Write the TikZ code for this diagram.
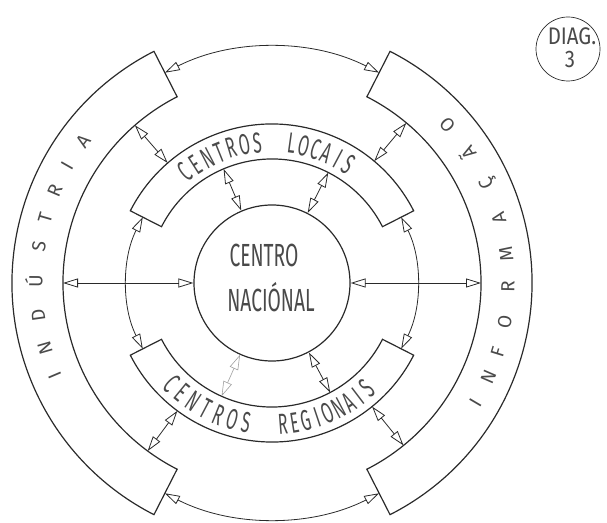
\documentclass[tikz,border=0pt]{standalone}
\usepackage{fontspec}
\usepackage{tikz}
\usetikzlibrary{arrows.meta}
\newfontfamily\stencil{Fira Sans}
\definecolor{ink}{HTML}{2A2A2A}
\definecolor{pencil}{HTML}{4A4A4A}
\tikzset{
  ring/.style={draw=ink,line width=1.2pt,line join=miter},
  hub/.style={circle,draw=ink,line width=1.2pt,minimum size=156pt,inner sep=0pt},
  link/.style={<->,draw=ink,line width=0.8pt},
  faint/.style={<->,draw=ink!45,line width=0.6pt},
  outtxt/.style={font=\stencil\fontsize{19}{19}\selectfont,text=pencil,inner sep=0pt,anchor=base},
  midtxt/.style={font=\stencil\fontsize{29}{29}\selectfont,text=pencil,inner sep=0pt,anchor=base,xscale=0.55},
  hubtxt/.style={font=\stencil\fontsize{32}{32}\selectfont,text=pencil,inner sep=0pt,anchor=base,xscale=0.6},
  tagtxt/.style={font=\stencil\fontsize{24}{24}\selectfont,text=pencil,inner sep=0pt,anchor=base,xscale=0.85}
}

\begin{document}
\begin{tikzpicture}[x=1pt,y=1pt,>={Triangle[open,length=15pt,width=9pt]}]
  \useasboundingbox (0,0) rectangle (607,522);

  % diagram tag
  \node[circle,draw=ink,line width=0.7pt,minimum size=64pt,inner sep=0pt] (tag) at (568,473) {};
  \node[tagtxt] (tag1) at (572,477) {DIAG.};
  \node[tagtxt] (tag2) at (570,454) {3};

  \begin{scope}[shift={(272,239)}]
    % outer ring: industria / informacao
    \draw[ring] (117:260) arc[start angle=117,end angle=243,radius=260]
      -- (243:209) arc[start angle=243,end angle=117,radius=209] -- cycle;
    \draw[ring] (-63:260) arc[start angle=-63,end angle=63,radius=260]
      -- (63:209) arc[start angle=63,end angle=-63,radius=209] -- cycle;
    % middle ring: locais / regionais
    \draw[ring] (27:159) arc[start angle=27,end angle=153,radius=159]
      -- (153:124) arc[start angle=153,end angle=27,radius=124] -- cycle;
    \draw[ring] (207:159) arc[start angle=207,end angle=333,radius=159]
      -- (333:124) arc[start angle=333,end angle=207,radius=124] -- cycle;

    \node[hub] (nac) at (0,0) {};
    \node[hubtxt] (nac1) at (-8,16) {CENTRO};
    \node[hubtxt] (nac2) at (-1,-29) {NACIÓNAL};

    % links round the rings
    \coordinate (ind-t) at (117:236);
    \coordinate (ind-b) at (243:236);
    \coordinate (loc-l) at (153:145);
    \coordinate (loc-r) at (27:145);
    \draw[link] (ind-t) arc[start angle=117,end angle=63,radius=236];
    \draw[link] (ind-b) arc[start angle=243,end angle=297,radius=236];
    \draw[link] (loc-l) arc[start angle=153,end angle=207,radius=145];
    \draw[link] (loc-r) arc[start angle=27,end angle=-27,radius=145];

    % links across
    \coordinate (ind-in) at (180:209);
    \coordinate (inf-in) at (0:209);
    \draw[link] (ind-in) -- (nac.west);
    \draw[link] (nac.east) -- (inf-in);
    \foreach \a [count=\i] in {131,50,233.5,309} {
      \coordinate (mid\i) at (\a:159);
      \coordinate (out\i) at (\a:209);
      \draw[link] (mid\i) -- (out\i);
    }
    \foreach \a [count=\i] in {113,63,298} {
      \coordinate (in\i) at (\a:124);
      \draw[link] (nac.\a) -- (in\i);
    }
    \coordinate (in4) at (246:124);
    \draw[faint] (nac.246) -- (in4);

    % lettering
    \foreach \a/\ch [count=\i] in {203/I,196/N,188/D,179.5/Ú,171/S,164/T,157/R,150.3/I,143/A}
      \node[rotate=\a-90,outtxt] (ind\i) at (\a:229.5) {\ch};
    \foreach \a/\ch [count=\i] in {-30.5/I,-23.5/N,-17/F,-9.5/O,-1/R,7/M,16/A,25/Ç,33.5/Ã,42/O}
      \node[rotate=\a+90,outtxt] (inf\i) at (\a:242.5) {\ch};
    \foreach \a/\ch [count=\i] in {128/C,122.7/E,117.3/N,112/T,106.7/R,101.3/O,96/S,82/L,77/O,72/C,67/A,62/I,57/S}
      \node[rotate=\a-90,midtxt] (loc\i) at (\a:131) {\ch};
    \foreach \a/\ch [count=\i] in {-135/C,-129.3/E,-123.5/N,-117.8/T,-112.1/R,-106.3/O,-100.6/S,-85.6/R,-80.9/E,-76.2/G,-71.5/I,-66.8/O,-62.1/N,-57.4/A,-52.7/I,-48/S}
      \node[rotate=\a+90,midtxt] (reg\i) at (\a:152) {\ch};
  \end{scope}
\end{tikzpicture}
\end{document}
